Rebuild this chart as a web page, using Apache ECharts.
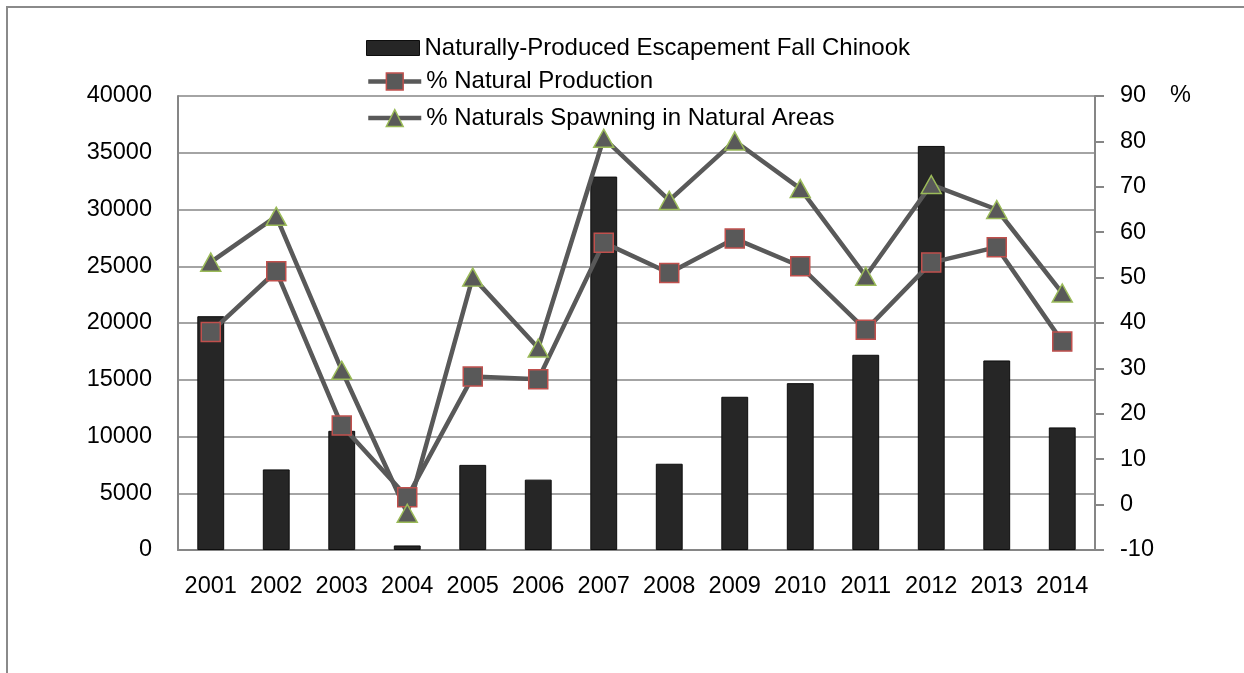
<!DOCTYPE html>
<html>
<head>
<meta charset="utf-8">
<script src="https://cdn.jsdelivr.net/npm/echarts@6/dist/echarts.min.js"></script>
<style>
html,body{margin:0;padding:0;background:#fff;}
#chart{width:1244px;height:673px;}
</style>
</head>
<body>
<div id="chart"></div>
<script>
var years = ['2001','2002','2003','2004','2005','2006','2007','2008','2009','2010','2011','2012','2013','2014'];
var escapement = [20600, 7100, 10500, 400, 7500, 6200, 32900, 7600, 13500, 14700, 17200, 35600, 16700, 10800];
var pctNaturalProduction = [38.0, 51.4, 17.4, 1.6, 28.2, 27.6, 57.7, 51.0, 58.6, 52.5, 38.5, 53.3, 56.7, 35.9];
var pctSpawningNatural = [53.4, 63.5, 29.6, -1.9, 50.1, 34.5, 80.7, 67.0, 80.1, 69.6, 50.3, 70.5, 65.0, 46.6];

var NAME_BAR = 'Naturally-Produced Escapement Fall Chinook';
var NAME_PROD = '% Natural Production';
var NAME_SPAWN = '% Naturals Spawning in Natural Areas';

var FONT = "'Liberation Sans', Arial, sans-serif";
var AXIS_GRAY = '#868686';
var LINE_GRAY = '#595959';

var chart = echarts.init(document.getElementById('chart'), null, {renderer: 'canvas'});

function legendItem(name, top, h, extra) {
  var o = {
    show: true,
    orient: 'vertical',
    left: 366,
    top: top,
    padding: 0,
    itemWidth: 53,
    itemHeight: h,
    itemGap: 0,
    selectedMode: false,
    data: [name],
    textStyle: {fontFamily: FONT, fontSize: 24, color: '#000', lineHeight: h}
  };
  for (var k in extra) o[k] = extra[k];
  return o;
}

var option = {
  backgroundColor: '#fff',
  animation: false,
  graphic: [{
    type: 'rect',
    shape: {x: 7, y: 7, width: 2000, height: 2000},
    style: {fill: 'none', stroke: '#8a8a8a', lineWidth: 2},
    silent: true,
    z: -10
  }],
  legend: [
    legendItem(NAME_BAR, 36, 15, {icon: 'rect', itemStyle: {color: '#262626', borderColor: '#0d0d0d', borderWidth: 1}}),
    legendItem(NAME_PROD, 69.5, 21, {lineStyle: {width: 4.5, color: LINE_GRAY}, itemStyle: {color: LINE_GRAY, borderColor: '#c0504d', borderWidth: 1.5}}),
    legendItem(NAME_SPAWN, 106, 21, {lineStyle: {width: 4.5, color: LINE_GRAY}, itemStyle: {color: LINE_GRAY, borderColor: '#9bbb59', borderWidth: 1.5}})
  ],
  grid: {left: 178, right: 149, top: 96, height: 454, containLabel: false, outerBoundsMode: 'none'},
  xAxis: {
    type: 'category',
    data: years,
    boundaryGap: true,
    axisLine: {show: true, lineStyle: {color: AXIS_GRAY, width: 2}},
    axisTick: {show: false},
    axisLabel: {color: '#000', fontFamily: FONT, fontSize: 23.5, margin: 25, interval: 0},
    splitLine: {show: false}
  },
  yAxis: [{
    type: 'value',
    min: 0,
    max: 40000,
    interval: 5000,
    position: 'left',
    axisLine: {show: true, lineStyle: {color: AXIS_GRAY, width: 2}},
    axisTick: {show: false},
    axisLabel: {color: '#000', fontFamily: FONT, fontSize: 23.5, margin: 26, formatter: function (v) { return String(v); }},
    splitLine: {show: true, lineStyle: {color: AXIS_GRAY, width: 1.5}}
  }, {
    type: 'value',
    min: -10,
    max: 90,
    interval: 10,
    position: 'right',
    name: '%',
    nameLocation: 'end',
    nameGap: 0,
    nameTextStyle: {color: '#000', fontFamily: FONT, fontSize: 23.5, align: 'left', verticalAlign: 'middle', padding: [0, 0, 0, 75]},
    axisLine: {show: true, lineStyle: {color: AXIS_GRAY, width: 2}},
    axisTick: {show: true, inside: false, length: 9, lineStyle: {color: AXIS_GRAY, width: 2}},
    axisLabel: {color: '#000', fontFamily: FONT, fontSize: 23.5, margin: 25, formatter: function (v) { return String(v); }},
    splitLine: {show: false}
  }],
  series: [{
    name: NAME_BAR,
    type: 'bar',
    data: escapement,
    yAxisIndex: 0,
    barWidth: '41%',
    itemStyle: {color: '#262626', borderColor: '#0d0d0d', borderWidth: 1}
  }, {
    name: NAME_PROD,
    type: 'line',
    data: pctNaturalProduction,
    yAxisIndex: 1,
    symbol: 'rect',
    symbolSize: 19,
    lineStyle: {color: LINE_GRAY, width: 4.5},
    itemStyle: {color: LINE_GRAY, borderColor: '#c0504d', borderWidth: 1.5}
  }, {
    name: NAME_SPAWN,
    type: 'line',
    data: pctSpawningNatural,
    yAxisIndex: 1,
    symbol: 'triangle',
    symbolSize: [20, 18],
    lineStyle: {color: LINE_GRAY, width: 4.5},
    itemStyle: {color: LINE_GRAY, borderColor: '#9bbb59', borderWidth: 1.5}
  }]
};
chart.setOption(option);
</script>
</body>
</html>
